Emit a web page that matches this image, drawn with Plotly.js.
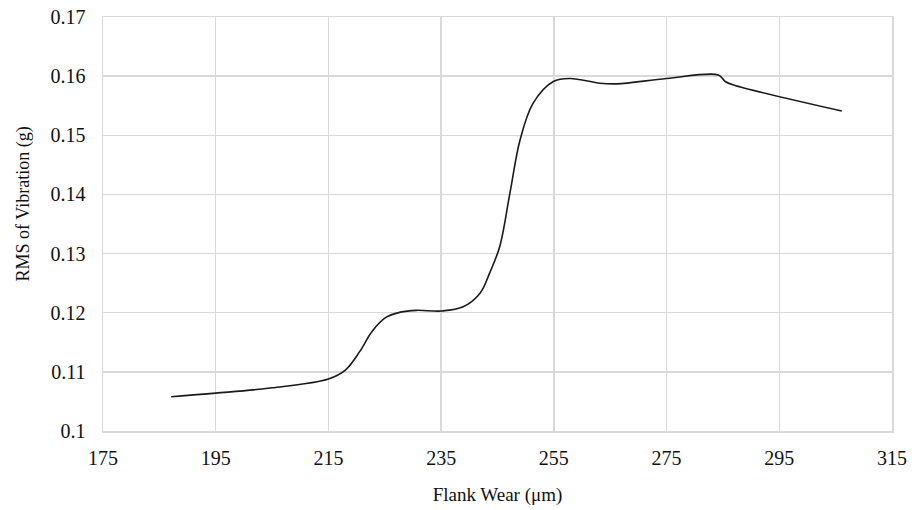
<!DOCTYPE html>
<html>
<head>
<meta charset="utf-8">
<script src="https://cdn.plot.ly/plotly-3.0.1.min.js"></script>
<style>html,body{margin:0;padding:0;background:#fff;}#chart{width:912px;height:510px;}</style>
</head>
<body>
<div id="chart"></div>
<script>
// Flank wear (µm) and RMS of vibration (g)
const flankWear = [187.1, 195, 205, 215, 218, 220.6, 222.7, 225.2, 227.8, 230.6, 235.2, 238.9, 241.9, 243.6, 245.4, 247.2, 249.0, 251.3, 254.9, 257.9, 263.2, 266.2, 275, 284.2, 285.4, 286.9, 306.1];
const rmsVibration = [0.1058, 0.1064, 0.1073, 0.1088, 0.1103, 0.1135, 0.1168, 0.1192, 0.1201, 0.1204, 0.1203, 0.1210, 0.1233, 0.1267, 0.1312, 0.1402, 0.1492, 0.1554, 0.1591, 0.1596, 0.1588, 0.1587, 0.1596, 0.1602, 0.1591, 0.1585, 0.1541];
const xTicks = [175, 195, 215, 235, 255, 275, 295, 315];
const yTicks = [0.1, 0.11, 0.12, 0.13, 0.14, 0.15, 0.16, 0.17];
const yTickText = ['0.1', '0.11', '0.12', '0.13', '0.14', '0.15', '0.16', '0.17'];
const xTitle = 'Flank Wear (μm)';
const yTitle = 'RMS of Vibration (g)';

const serif = '"Liberation Serif", "Times New Roman", serif';

const trace = {
  x: flankWear,
  y: rmsVibration,
  type: 'scatter',
  mode: 'lines',
  line: {color: '#1a1a1a', width: 1.6, shape: 'spline', smoothing: 1.0},
  hoverinfo: 'x+y'
};

const tickFont = {family: serif, size: 20, color: '#111'};
const layout = {
  width: 912, height: 510,
  margin: {l: 103, r: 20, t: 17, b: 79},
  paper_bgcolor: '#fff', plot_bgcolor: '#fff',
  showlegend: false,
  xaxis: {
    range: [175, 315], tickvals: xTicks, ticktext: xTicks.map(String),
    showgrid: true, gridcolor: '#d9d9d9', gridwidth: 1.5,
    zeroline: false, showline: true, linecolor: '#d9d9d9', linewidth: 1.5, mirror: true,
    ticks: 'outside', ticklen: 8, tickcolor: 'rgba(0,0,0,0)',
    tickfont: tickFont,
    title: {text: xTitle, font: {family: serif, size: 19, color: '#111'}, standoff: 20}
  },
  yaxis: {
    range: [0.1, 0.17], tickvals: yTicks, ticktext: yTickText,
    showgrid: true, gridcolor: '#d9d9d9', gridwidth: 1.5,
    zeroline: false, showline: true, linecolor: '#d9d9d9', linewidth: 1.5, mirror: true,
    ticks: 'outside', ticklen: 12, tickcolor: 'rgba(0,0,0,0)',
    tickfont: tickFont
  },
  annotations: [{
    text: yTitle, textangle: -90, showarrow: false,
    xref: 'paper', yref: 'paper', x: -0.101, y: 0.548,
    xanchor: 'center', yanchor: 'middle',
    font: {family: serif, size: 18, color: '#111'}
  }]
};

Plotly.newPlot('chart', [trace], layout, {displayModeBar: false, staticPlot: true});
</script>
</body>
</html>
